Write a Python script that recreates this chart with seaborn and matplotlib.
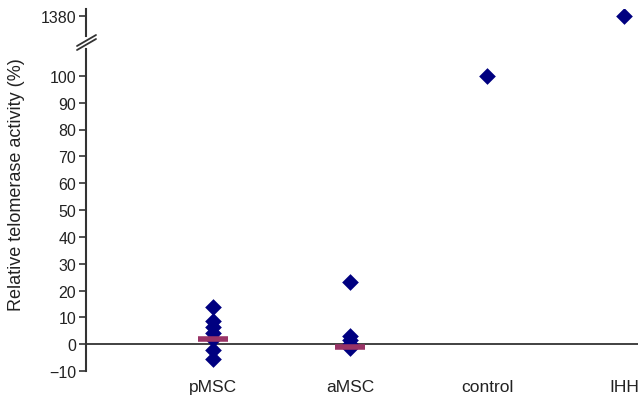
import pandas as pd
import numpy as np
import seaborn as sns
import matplotlib.pyplot as plt
from matplotlib.lines import Line2D

# data
groups = ["pMSC", "aMSC", "control", "IHH"]
pmsc = [14, 8.5, 6.5, 4, 2, -2, -5.6]
amsc = [23, 3, 1.5, 0, -1.5]
control = [100]
ihh = [1380]
means = {"pMSC": 2, "aMSC": -1}

df = pd.DataFrame({
    "group": ["pMSC"] * len(pmsc) + ["aMSC"] * len(amsc) + ["control"] * len(control) + ["IHH"] * len(ihh),
    "value": pmsc + amsc + control + ihh,
})

sns.set_style("white")
plt.rcParams["font.family"] = ["Liberation Sans", "DejaVu Sans"]

W, H = 638, 402
fig = plt.figure(figsize=(W / 100, H / 100), dpi=100)
ax = fig.add_axes([86 / W, (H - 372) / H, 1 - 86 / W, (372 - 50) / H])
ax_top = fig.add_axes([86 / W, (H - 37) / H, 1 - 86 / W, 27 / H], sharex=ax)

navy = "#000080"
plum = "#993366"
for a in (ax, ax_top):
    sns.stripplot(data=df, x="group", y="value", order=groups, jitter=False,
                  marker="D", size=8.5, color=navy, linewidth=0, ax=a)
    a.set_xlabel("")
    a.set_ylabel("")
    for s in ["top", "right", "bottom"]:
        a.spines[s].set_visible(False)
    a.spines["left"].set_color("#333333")
    a.spines["left"].set_linewidth(1.5)
    a.tick_params(axis="y", direction="out", length=5, width=1.2, color="#333333",
                  labelsize=11.5, labelcolor="#222222", left=True, pad=2)

# mean bars
for g, m in means.items():
    i = groups.index(g)
    ax.hlines(m, i - 0.11, i + 0.11, color=plum, linewidth=4, zorder=4)

ax.axhline(0, color="#333333", linewidth=1.3, zorder=1)
ax.set_ylim(-10, 110)
ax.set_yticks(np.arange(-10, 101, 10))
ax.set_xlim(-0.93, 3.10)
ax.tick_params(axis="x", length=0, labelsize=12.5, labelcolor="#222222", pad=6)

ax_top.set_ylim(1300, 1408)
ax_top.set_yticks([1380])
ax_top.tick_params(axis="x", bottom=False, labelbottom=False)

# break marks
for dy in (0, 4):
    fig.add_artist(Line2D([77 / W, 96 / W], [(H - 51 + dy) / H, (H - 40 + dy) / H],
                          transform=fig.transFigure, color="#333333", linewidth=1.3))

fig.text(17 / W, 1 - 185 / H, "Relative telomerase activity (%)", rotation=90,
         ha="center", va="center", fontsize=13, color="#222222")

fig.savefig("out.png", dpi=100)
